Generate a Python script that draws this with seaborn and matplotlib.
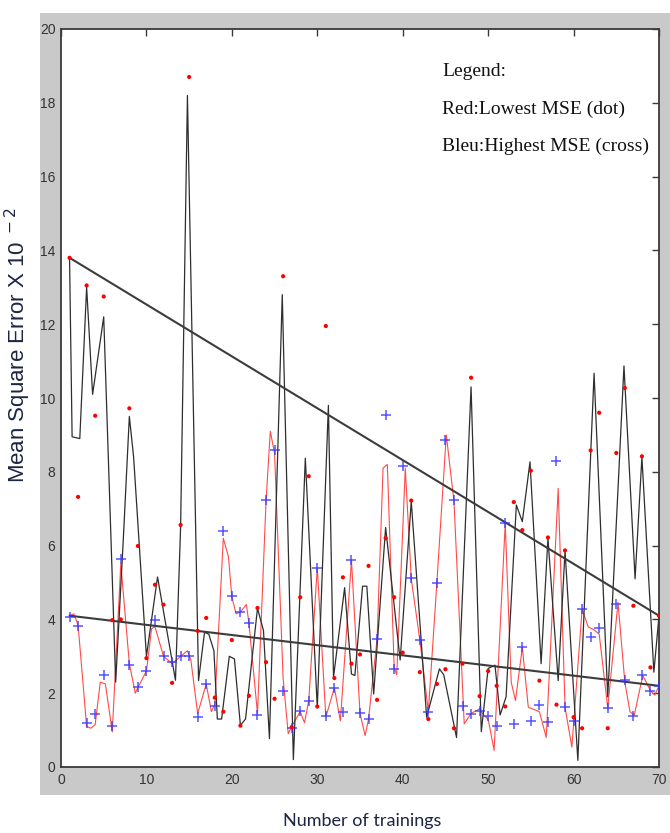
import matplotlib
matplotlib.use("Agg")
import matplotlib.pyplot as plt
from matplotlib.patches import Rectangle
import seaborn as sns

# x axis: training number
trainings = list(range(1, 71))

# red dots: lowest MSE of each training
lowest_mse = [13.8, 7.32, 13.05, 9.52, 12.75, 3.98, 4.0, 9.72, 5.99, 2.95,
              4.94, 4.4, 2.28, 6.56, 18.7, 3.69, 4.04, 1.88, 1.5, 3.44,
              1.12, 1.93, 4.31, 2.84, 1.85, 13.3, 1.08, 4.6, 7.88, 1.64,
              11.95, 2.41, 5.14, 2.8, 3.05, 5.45, 1.82, 6.2, 4.6, 3.1,
              7.22, 2.57, 1.3, 2.25, 2.65, 1.05, 2.8, 10.55, 1.92, 2.6,
              2.2, 1.64, 7.18, 6.42, 8.03, 2.34, 6.22, 1.69, 5.87, 1.35,
              1.05, 8.58, 9.6, 1.05, 8.51, 10.27, 4.37, 8.42, 2.7, 4.1]

# blue crosses: highest MSE of each training
highest_mse = [4.07, 3.83, 1.2, 1.44, 2.48, 1.1, 5.65, 2.77, 2.16, 2.61,
               3.98, 3.02, 2.85, 3.0, 3.0, 1.35, 2.25, 1.64, 6.4, 4.64,
               4.2, 3.9, 1.41, 7.23, 8.58, 2.07, 1.06, 1.51, 1.8, 5.39,
               1.38, 2.14, 1.49, 5.6, 1.46, 1.31, 3.47, 9.55, 2.66, 8.15,
               5.12, 3.44, 1.5, 5.0, 8.85, 7.23, 1.64, 1.44, 1.53, 1.37,
               1.1, 6.6, 1.17, 3.24, 1.26, 1.67, 1.22, 8.3, 1.62, 1.26,
               4.28, 3.51, 3.78, 1.6, 4.41, 2.36, 1.37, 2.48, 2.07, 2.2]

# black curve (vertices)
black_x = [1, 1.3, 2.2, 3, 3.7, 5, 6.4, 7.3, 8, 8.5, 10, 11.3, 13.4, 14,
           14.8, 16.1, 16.8, 17.3, 17.9, 18.3, 18.8, 19.7, 20.3, 21, 21.6,
           23, 23.7, 24.4, 25.9, 27.2, 28.6, 30, 31.3, 31.9, 33.2, 34, 34.4,
           35.3, 35.8, 36.6, 38, 39.7, 41, 42.8, 44.3, 44.8, 46.3, 48, 49.2,
           50, 50.8, 51.4, 52.1, 53.3, 54, 54.9, 56.2, 57, 58.2, 59, 60.5,
           62.4, 64, 65.3, 65.9, 67.2, 68, 69.4, 70]
black_y = [13.8, 8.95, 8.9, 13.0, 10.1, 12.2, 2.3, 6.2, 9.5, 8.4, 3.0, 5.15,
           2.35, 6.5, 18.2, 2.34, 3.65, 3.6, 3.15, 1.3, 1.3, 3.0, 2.93, 1.13,
           1.3, 4.3, 3.7, 0.77, 12.8, 0.2, 8.37, 1.6, 9.8, 2.43, 4.86, 2.52,
           2.48, 4.9, 4.9, 1.98, 6.49, 2.9, 7.2, 1.35, 2.66, 2.5, 0.8, 10.3,
           0.96, 2.67, 2.76, 1.41, 1.9, 7.1, 6.65, 8.27, 2.8, 6.2, 2.34, 5.86,
           0.18, 10.67, 1.9, 8.0, 10.87, 5.1, 8.4, 2.57, 4.1]

# red curve (vertices)
red_x = [1, 1.5, 2, 3, 3.5, 4, 4.6, 5.2, 6, 7, 8, 8.7, 9, 10, 10.6, 11, 12,
         13, 14, 14.8, 15.2, 16, 17, 17.6, 18, 19, 19.6, 20, 20.5, 21, 21.7,
         22, 23, 24, 24.5, 25, 26, 26.6, 27, 28, 28.5, 29, 30, 31, 32, 32.7,
         34, 35, 35.6, 36, 37, 37.7, 38.2, 39, 39.3, 40.3, 41, 42, 43, 44,
         45.1, 46, 47.2, 48, 49, 49.5, 50, 50.7, 52, 52.7, 53.2, 54, 54.7,
         56, 56.8, 58.2, 59, 59.8, 61, 61.7, 62.5, 63, 64, 65.2, 66, 66.6,
         67.1, 68.1, 69, 69.5, 70]
red_y = [4.1, 4.15, 3.85, 1.1, 1.05, 1.15, 2.3, 2.25, 0.95, 5.5, 2.8, 2.0,
         2.15, 2.6, 3.75, 3.8, 3.0, 2.8, 3.0, 3.15, 2.9, 1.45, 2.25, 1.5, 1.7,
         6.2, 5.7, 4.6, 4.15, 4.2, 4.4, 3.9, 1.45, 7.2, 9.1, 8.5, 2.4, 0.9,
         1.1, 1.5, 1.2, 1.8, 5.4, 1.35, 2.15, 1.25, 5.6, 1.45, 0.85, 1.3,
         3.47, 8.1, 8.2, 2.7, 2.5, 8.1, 5.1, 3.45, 1.5, 5.0, 9.0, 7.2, 1.17,
         1.45, 1.58, 1.4, 1.3, 0.45, 6.6, 2.3, 1.8, 3.24, 1.62, 1.5, 0.8,
         7.55, 1.62, 0.54, 4.28, 3.8, 3.7, 3.6, 1.6, 4.46, 2.3, 1.5, 1.4,
         2.48, 2.07, 1.95, 2.2]

# straight trend lines
trend_x = [1, 70]
trend_high = [13.8, 4.1]
trend_low = [4.1, 2.2]

x_ticks = [0, 10, 20, 30, 40, 50, 60, 70]
y_ticks = [0, 2, 4, 6, 8, 10, 12, 14, 16, 18, 20]

sns.set_theme(style="white")
plt.rcParams['font.family'] = ['Liberation Sans Narrow', 'Liberation Sans', 'DejaVu Sans']

W, H = 670, 833
fig = plt.figure(figsize=(W / 100, H / 100), dpi=100)
fig.patch.set_facecolor('white')

# grey figure frame (MATLAB style)
fig.patches.append(Rectangle((40 / W, 1 - 795 / H), 630 / W, 782 / H,
                             transform=fig.transFigure, facecolor='#c9c9c9',
                             edgecolor='none', zorder=-1))

ax = fig.add_axes([61 / W, 1 - 767 / H, 598 / W, 738 / H])
ax.set_zorder(1)
ax.set_facecolor('white')

sns.lineplot(x=trend_x, y=trend_high, ax=ax, color='#3c3c3c', lw=1.5,
             estimator=None, sort=False, zorder=3)
sns.lineplot(x=trend_x, y=trend_low, ax=ax, color='#3c3c3c', lw=1.5,
             estimator=None, sort=False, zorder=3)
sns.lineplot(x=red_x, y=red_y, ax=ax, color='#ff4a4a', lw=0.8,
             estimator=None, sort=False, zorder=2)
sns.lineplot(x=black_x, y=black_y, ax=ax, color='#2e2e2e', lw=0.9,
             estimator=None, sort=False, zorder=2)
sns.scatterplot(x=trainings, y=highest_mse, ax=ax, marker='+', s=55,
                color='#3535ff', linewidth=1.1, alpha=0.85, zorder=4)
sns.scatterplot(x=trainings, y=lowest_mse, ax=ax, marker='o', s=9,
                color='#ff0000', edgecolor='none', zorder=5)

ax.set_xlim(0, 70)
ax.set_ylim(0, 20)
ax.set_xticks(x_ticks)
ax.set_yticks(y_ticks)
ax.set_xlabel('')
ax.set_ylabel('')
ax.tick_params(direction='in', length=5, width=1, color='#3a3a3a',
               labelcolor='#333333', labelsize=10, top=True, right=True,
               pad=4)
for sp in ax.spines.values():
    sp.set_visible(True)
    sp.set_color('#3a3a3a')
    sp.set_linewidth(1.3)

fig.text(18 / W, 1 - 345 / H, r'Mean Square Error X 10$^{\ -2}$',
         rotation=90, ha='center', va='center', fontsize=16,
         color='#1c2541', family=['Liberation Sans', 'DejaVu Sans'])
fig.text(362 / W, 1 - 821 / H, 'Number of trainings', ha='center',
         va='center', fontsize=13, color='#1c2541',
         family=['Lato', 'DejaVu Sans'])

legend_lines = ['Legend:', 'Red:Lowest MSE (dot)', 'Bleu:Highest MSE (cross)']
for i, txt in enumerate(legend_lines):
    fig.text(442 / W, 1 - (72 + 37 * i) / H, txt, ha='left', va='center',
             fontsize=14, color='#111111',
             family=['Liberation Serif', 'DejaVu Serif'])

fig.savefig('out.png', dpi=100)
